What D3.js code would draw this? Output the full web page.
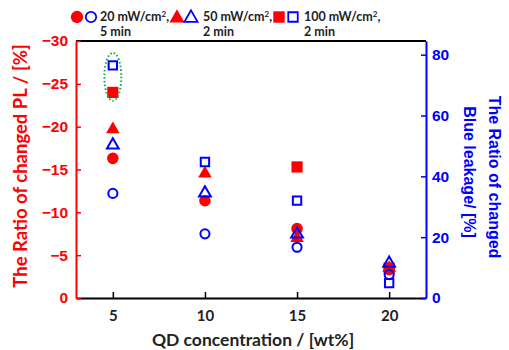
<!DOCTYPE html>
<html>
<head>
<meta charset="utf-8">
<script src="https://cdn.jsdelivr.net/npm/d3@7"></script>
<style>
  body { margin: 0; background: #fff; }
  svg { display: block; }
</style>
</head>
<body>
<div id="chart"></div>
<script>
// QD concentration (wt%)
const conc = [5, 10, 15, 20]

// ratio of changed PL (%), left axis
const pl20 = [-16.3, -11.35, -8.1, -3.3]
const pl50 = [-19.8, -14.65, -7.1, -3.6]
const pl100 = [-24.0, null, -15.3, -3.5]

// ratio of changed blue leakage (%), right axis
const blue20 = [34.4, 21.1, 16.7, 7.7]
const blue50 = [50.6, 34.8, 21.3, 11.7]
const blue100 = [76.5, 44.7, 32.0, 4.9]

const xTicks = [5, 10, 15, 20]
const leftTicks = [0, -5, -10, -15, -20, -25, -30]
const rightTicks = [0, 20, 40, 60, 80]

const W = 509, H = 350
const m = {top: 41, right: 83, bottom: 52, left: 76}

const svg = d3.select("#chart").append("svg")
  .attr("width", W).attr("height", H)

const x = d3.scaleLinear().domain([3, 22]).range([m.left, W - m.right])
const yL = d3.scaleLinear().domain([0, -30]).range([H - m.bottom, m.top])
const yR = d3.scaleLinear().domain([0, 84.5]).range([H - m.bottom, m.top])

const RED = "#ff0000", BLUE = "#0000ff"
const arial = "Liberation Sans, Arial, sans-serif"
const calib = "Lato, Carlito, sans-serif"

// top border
svg.append("line")
  .attr("x1", m.left).attr("x2", W - m.right)
  .attr("y1", m.top).attr("y2", m.top)
  .attr("stroke", "#000").attr("stroke-width", 2)

// bottom axis
const gx = svg.append("g")
  .attr("transform", `translate(0,${H - m.bottom})`)
  .call(d3.axisBottom(x).tickValues(xTicks).tickSize(-6).tickSizeOuter(0).tickPadding(12))
gx.select(".domain").attr("stroke", "#000").attr("stroke-width", 2)
gx.selectAll(".tick line").attr("stroke", "#000").attr("stroke-width", 1.5)
gx.selectAll("text").attr("font-family", calib).attr("font-weight", "bold")
  .attr("font-size", 15).attr("fill", "#222")

// left axis
const gl = svg.append("g")
  .attr("transform", `translate(${m.left},0)`)
  .call(d3.axisLeft(yL).tickValues(leftTicks).tickSize(-5).tickSizeOuter(0).tickPadding(8))
gl.select(".domain").attr("stroke", RED).attr("stroke-width", 2)
gl.selectAll(".tick line").attr("stroke", RED).attr("stroke-width", 1.5)
gl.selectAll("text").attr("font-family", arial).attr("font-weight", "bold")
  .attr("font-size", 15.5).attr("fill", RED)

// right axis
const gr = svg.append("g")
  .attr("transform", `translate(${W - m.right},0)`)
  .call(d3.axisRight(yR).tickValues(rightTicks).tickSize(-5).tickSizeOuter(0).tickPadding(6))
gr.select(".domain").attr("stroke", BLUE).attr("stroke-width", 2)
gr.selectAll(".tick line").attr("stroke", BLUE).attr("stroke-width", 1.5)
gr.selectAll("text").attr("font-family", arial).attr("font-weight", "bold")
  .attr("font-size", 15.5).attr("fill", BLUE)

// axis titles
svg.append("text")
  .attr("transform", `translate(${(m.left + W - m.right) / 2 + 2},346) `)
  .attr("text-anchor", "middle")
  .attr("font-family", calib).attr("font-weight", "bold").attr("font-size", 17.5).attr("fill", "#222")
  .text("QD concentration / [wt%]")

svg.append("text")
  .attr("transform", "translate(27,166) rotate(-90)")
  .attr("text-anchor", "middle")
  .attr("font-family", calib).attr("font-weight", "bold").attr("font-size", 18.5).attr("fill", RED)
  .text("The Ratio of changed PL / [%]")

svg.append("text")
  .attr("transform", "translate(489,177) rotate(90)")
  .attr("text-anchor", "middle")
  .attr("font-family", arial).attr("font-weight", "bold").attr("font-size", 16).attr("fill", BLUE)
  .text("The Ratio of changed")
svg.append("text")
  .attr("transform", "translate(464,172) rotate(90)")
  .attr("text-anchor", "middle")
  .attr("font-family", arial).attr("font-weight", "bold").attr("font-size", 16).attr("fill", BLUE)
  .text("Blue leakage/ [%]")

// markers
const shapes = {
  circle: d3.symbolCircle,
  triangle: d3.symbolTriangle,
  square: d3.symbolSquare
}
const series = [
  {vals: pl20, y: yL, shape: "circle", fill: true, size: 105},
  {vals: pl50, y: yL, shape: "triangle", fill: true, size: 80},
  {vals: pl100, y: yL, shape: "square", fill: true, size: 125},
  {vals: blue20, y: yR, shape: "circle", fill: false, size: 65},
  {vals: blue50, y: yR, shape: "triangle", fill: false, size: 60},
  {vals: blue100, y: yR, shape: "square", fill: false, size: 70}
]

series.forEach(s => {
  const pts = conc.map((c, i) => ({c, v: s.vals[i]})).filter(d => d.v != null)
  svg.append("g").selectAll("path")
    .data(pts).enter().append("path")
    .attr("d", d3.symbol().type(shapes[s.shape]).size(s.size))
    .attr("transform", d => `translate(${x(d.c)},${s.y(d.v) + (s.shape === "triangle" ? 1 : 0)})`)
    .attr("fill", s.fill ? RED : "none")
    .attr("stroke", s.fill ? "none" : BLUE)
    .attr("stroke-width", 2)
})

// green dotted ellipse around the 5 wt% / 100 mW points
svg.append("ellipse")
  .attr("cx", x(5)).attr("cy", (yR(blue100[0]) + yL(pl100[0])) / 2 - 2)
  .attr("rx", 8.5).attr("ry", 24)
  .attr("fill", "none").attr("stroke", "#00b050")
  .attr("stroke-width", 2).attr("stroke-dasharray", "1.5 2.2")

// legend
const legend = [
  {shape: "circle", x: 77, tx: 100, line1: "20 mW/cm", line2: "5 min"},
  {shape: "triangle", x: 177, tx: 203, line1: "50 mW/cm", line2: "2 min"},
  {shape: "square", x: 279, tx: 304, line1: "100 mW/cm", line2: "2 min"}
]
const lg = svg.append("g")
legend.forEach(l => {
  const big = {circle: 120, triangle: 100, square: 130}[l.shape]
  const small = {circle: 85, triangle: 75, square: 90}[l.shape]
  const dy = l.shape === "triangle" ? 1 : 0
  lg.append("path")
    .attr("d", d3.symbol().type(shapes[l.shape]).size(big))
    .attr("transform", `translate(${l.x},${17 + dy})`)
    .attr("fill", RED)
  lg.append("path")
    .attr("d", d3.symbol().type(shapes[l.shape]).size(small))
    .attr("transform", `translate(${l.x + 14},${17 + dy})`)
    .attr("fill", "none").attr("stroke", BLUE).attr("stroke-width", 1.8)
  const t = lg.append("text")
    .attr("x", l.tx).attr("y", 21)
    .attr("font-family", calib).attr("font-weight", "bold").attr("font-size", 12.5).attr("fill", "#222")
  t.append("tspan").text(l.line1)
  t.append("tspan").attr("dy", -4).attr("font-size", 8).text("2")
  t.append("tspan").attr("dy", 4).text(",")
  lg.append("text")
    .attr("x", l.tx).attr("y", 36)
    .attr("font-family", calib).attr("font-weight", "bold").attr("font-size", 12.5).attr("fill", "#222")
    .text(l.line2)
})
</script>
</body>
</html>
